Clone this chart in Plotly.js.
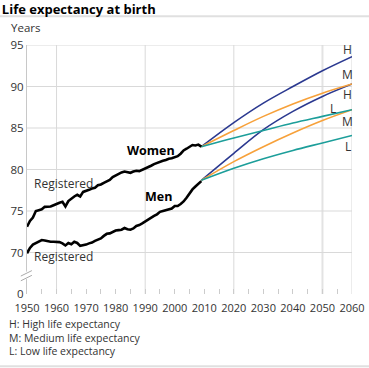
<!DOCTYPE html>
<html>
<head>
<meta charset="utf-8">
<script src="https://cdn.plot.ly/plotly-3.0.1.min.js"></script>
<style>html,body{margin:0;padding:0;background:#fff;}#chart{width:369px;height:368px;}</style>
</head>
<body>
<div id="chart"></div>
<script>
// ---- data ----
const histYears = [];
for (let y = 1950; y <= 2009; y++) histYears.push(y);
const womenReg = [73.1,73.8,74.2,75.0,75.1,75.2,75.5,75.55,75.55,75.7,
  75.9,76.0,76.1,75.55,76.2,76.5,76.75,76.95,76.75,77.3,
  77.4,77.55,77.7,77.8,78.1,78.2,78.4,78.6,78.75,79.1,
  79.3,79.55,79.65,79.75,79.7,79.6,79.75,79.85,79.8,79.95,
  80.1,80.3,80.45,80.65,80.8,80.95,81.05,81.15,81.3,81.35,
  81.5,81.6,81.9,82.3,82.5,82.75,82.95,82.9,83.0,82.75];
const menReg = [69.9,70.55,70.95,71.15,71.3,71.5,71.45,71.35,71.3,71.3,
  71.3,71.25,71.1,70.85,71.15,71.0,71.3,71.15,70.8,70.85,
  70.95,71.1,71.2,71.4,71.55,71.7,72.0,72.25,72.3,72.45,
  72.65,72.7,72.75,72.95,72.8,72.75,72.9,73.2,73.3,73.5,
  73.75,73.95,74.2,74.4,74.6,74.9,75.0,75.1,75.2,75.3,
  75.6,75.6,75.85,76.15,76.6,77.15,77.6,77.95,78.3,78.6];
const projYears = [2009, 2020, 2030, 2040, 2050, 2060];
const womenH = [82.75, 85.65, 88.0, 90.0, 91.9, 93.6];
const womenM = [82.75, 84.7, 86.4, 87.9, 89.2, 90.3];
const womenL = [82.75, 83.8, 84.7, 85.6, 86.4, 87.2];
const menH = [78.7, 81.95, 84.8, 87.0, 88.8, 90.3];
const menM = [78.7, 80.95, 82.75, 84.4, 85.9, 87.2];
const menL = [78.7, 80.15, 81.3, 82.3, 83.2, 84.1];
const xTickVals = [1950,1960,1970,1980,1990,2000,2010,2020,2030,2040,2050,2060];
const yTickVals = [65,70,75,80,85,90,95];
const yTickText = ["0","70","75","80","85","90","95"];
const legendLines = ["H: High life expectancy","M: Medium life expectancy","L: Low life expectancy"];

// ---- styles ----
const FONT = "Open Sans, Noto Sans, sans-serif";
const BLUE = "#2b3990", ORANGE = "#f7a13a", TEAL = "#1c9e9a", GRID = "#d9d9d9";

function proj(y, color) {
  return {x: projYears, y: y, mode: "lines", line: {color: color, width: 1.6, shape: "spline", smoothing: 1}, hoverinfo: "skip"};
}
const traces = [
  proj(womenH, BLUE), proj(menH, BLUE),
  proj(womenM, ORANGE), proj(menM, ORANGE),
  proj(womenL, TEAL), proj(menL, TEAL),
  {x: histYears, y: womenReg, mode: "lines", line: {color: "#000", width: 2.6}, hoverinfo: "skip"},
  {x: histYears, y: menReg, mode: "lines", line: {color: "#000", width: 2.6}, hoverinfo: "skip"}
];

const shapes = [];
[1960,1990,2020,2050,2060].forEach(v => shapes.push({type:"line", xref:"x", yref:"paper", x0:v, x1:v, y0:0, y1:1, line:{color: v===2050 ? "#e3e3e3" : GRID, width: v===2050 ? 2 : 1}, layer:"below"}));
[70,75,80,85,90,95].forEach(v => shapes.push({type:"line", xref:"paper", yref:"y", x0:0, x1:1, y0:v, y1:v, line:{color:GRID, width:1}, layer:"below"}));
// axis break marks
shapes.push({type:"rect", xref:"paper", yref:"paper", x0:-0.006, x1:0.006, y0:0.06, y1:0.09, fillcolor:"#fff", line:{width:0}});
shapes.push({type:"line", xref:"paper", yref:"paper", x0:-0.019, x1:0.015, y0:0.072, y1:0.094, line:{color:"#aaa", width:1}});
shapes.push({type:"line", xref:"paper", yref:"paper", x0:-0.019, x1:0.015, y0:0.053, y1:0.075, line:{color:"#aaa", width:1}});
// header / footer rules
shapes.push({type:"line", xref:"paper", yref:"paper", x0:-0.09, x1:1.06, y0:1.115, y1:1.115, line:{color:"#e0e0e0", width:2}});
shapes.push({type:"line", xref:"paper", yref:"paper", x0:-0.09, x1:1.06, y0:-0.29, y1:-0.29, line:{color:"#e0e0e0", width:2}});

const annots = [
  {text:"Women", x:1992, y:82.3, bold:true},
  {text:"Men", x:1994.5, y:76.7, bold:true},
  {text:"Registered", x:1962.5, y:78.3, bold:false},
  {text:"Registered", x:1962.5, y:69.5, bold:false},
  {text:"H", x:2058.5, y:94.5}, {text:"M", x:2058.5, y:91.4},
  {text:"H", x:2058.5, y:89.0}, {text:"L", x:2053.5, y:87.4},
  {text:"M", x:2058.5, y:85.8}, {text:"L", x:2058.5, y:82.8}
].map(a => ({xref:"x", yref:"y", x:a.x, y:a.y, text: a.bold ? "<b>"+a.text+"</b>" : a.text, showarrow:false,
  font:{family:FONT, size: a.bold ? 12.5 : 12, color: a.bold ? "#000" : "#333"}}));
annots.push({xref:"paper", yref:"paper", x:-0.055, y:1.072, xanchor:"left", yanchor:"middle", text:"Years", showarrow:false, font:{family:FONT, size:11.5, color:"#333"}});
annots.push({xref:"paper", yref:"paper", x:-0.063, y:-0.175, xanchor:"left", yanchor:"middle", align:"left",
  text: legendLines.join("<br>"), showarrow:false, font:{family:FONT, size:10.5, color:"#333"}});

const layout = {
  width: 369, height: 368,
  margin: {l: 27, r: 17, t: 45, b: 74},
  paper_bgcolor: "#fff", plot_bgcolor: "#fff",
  showlegend: false,
  title: {text: "<b>Life expectancy at birth</b>", x: 0.005, xanchor: "left", y: 0.975, yanchor: "middle", font: {family: FONT, size: 13, color: "#000"}},
  xaxis: {range: [1950, 2060], tickvals: xTickVals, showgrid: false, zeroline: false, showline: false,
    ticks: "inside", ticklen: 5, tickcolor: "#ccc", minor: {dtick: 5, tick0: 1955, ticks: "inside", ticklen: 5, tickcolor: "#ccc"},
    ticklabelstandoff: 6,
    tickfont: {family: FONT, size: 11, color: "#333"}, fixedrange: true},
  yaxis: {range: [65, 95], tickvals: yTickVals, ticktext: yTickText, showgrid: false, zeroline: false,
    showline: true, linecolor: "#c8c8c8", linewidth: 1, ticks: "",
    tickfont: {family: FONT, size: 11.5, color: "#333"}, fixedrange: true},
  shapes: shapes,
  annotations: annots
};
Plotly.newPlot("chart", traces, layout, {staticPlot: true, displayModeBar: false});
</script>
</body>
</html>
